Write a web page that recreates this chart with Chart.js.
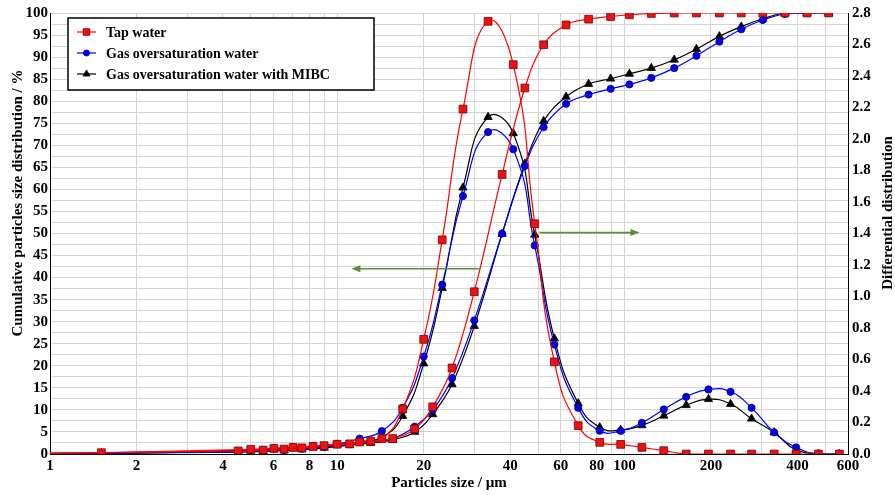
<!DOCTYPE html>
<html>
<head>
<meta charset="utf-8">
<script src="https://cdn.jsdelivr.net/npm/chart.js@4.4.1/dist/chart.umd.min.js"></script>
<style>
  html, body { margin: 0; padding: 0; background: #fff; }
  #wrap { width: 895px; height: 495px; }
</style>
</head>
<body>
<div id="wrap"><canvas id="psdChart" width="895" height="495"></canvas></div>
<script>
// particle size classes (µm) where markers sit
const diffSizes = [1, 1.51, 5.0, 6.02, 7.02, 8.24, 9.98, 11.97, 14.3, 16.9, 20, 23.2, 27.4, 33.5, 41, 48.7, 57, 69, 82, 97, 115, 137, 164, 196, 234, 277, 332, 396, 473, 560];
const cumSizes = [1, 4.52, 5.52, 6.53, 7.53, 9.0, 11.05, 13.08, 15.6, 18.6, 21.5, 25.1, 30, 37.5, 45, 52.3, 62.6, 75, 89.5, 104, 124, 149, 178, 214, 255, 303, 362, 432, 514];

// cumulative distribution, %
const tapCum = [0.2, 0.7, 0.9, 1.13, 1.4, 1.9, 2.3, 2.9, 3.5, 5.7, 10.7, 19.5, 36.8, 63.4, 83.0, 92.8, 97.3, 98.6, 99.2, 99.6, 99.9, 100, 100, 100, 100, 100, 100, 100, 100];
const gasCum = [0.1, 0.5, 0.7, 0.9, 1.2, 1.6, 2.2, 2.8, 3.5, 6.2, 10.0, 17.2, 30.3, 50.0, 65.3, 74.1, 79.4, 81.5, 82.8, 83.8, 85.3, 87.5, 90.3, 93.5, 96.3, 98.4, 99.8, 100, 100];
const mibcCum = [0.1, 0.4, 0.6, 0.8, 1.0, 1.4, 2.0, 2.5, 3.2, 5.0, 9.0, 15.8, 29.0, 49.9, 65.8, 75.5, 81.0, 83.9, 85.1, 86.2, 87.5, 89.4, 91.8, 94.7, 96.9, 98.7, 100, 100, 100];

// differential distribution
const tapDiff = [0.006, 0.008, 0.03, 0.036, 0.042, 0.048, 0.062, 0.076, 0.098, 0.286, 0.728, 1.36, 2.19, 2.747, 2.472, 1.462, 0.585, 0.18, 0.074, 0.061, 0.042, 0.021, 0, 0, 0, 0, 0, 0, 0, 0];
const gasDiff = [0.003, 0.005, 0.025, 0.034, 0.042, 0.05, 0.064, 0.098, 0.146, 0.294, 0.619, 1.075, 1.638, 2.044, 1.935, 1.324, 0.695, 0.293, 0.148, 0.146, 0.198, 0.283, 0.363, 0.41, 0.395, 0.293, 0.137, 0.042, 0, 0];
const mibcDiff = [0.003, 0.004, 0.02, 0.028, 0.036, 0.042, 0.056, 0.078, 0.106, 0.241, 0.574, 1.053, 1.691, 2.139, 2.036, 1.392, 0.733, 0.321, 0.169, 0.152, 0.182, 0.243, 0.31, 0.348, 0.317, 0.224, 0.137, 0.025, 0, 0];

const xLabels = [1, 2, 4, 6, 8, 10, 20, 40, 60, 80, 100, 200, 400, 600];

// green arrows (left-axis units)
const arrows = [
  { from: [31.3, 42], to: [11.2, 42] },
  { from: [50.6, 50.2], to: [112.8, 50.2] }
];

const serif = 'Liberation Serif, Times New Roman, serif';

function pts(sizes, values) {
  return sizes.map((x, i) => ({ x: x, y: values[i] }));
}

const series = [
  { label: 'Tap water', color: '#ff0000', fill: '#ee1111', edge: '#7a0000', style: 'rect', r: 5.5 },
  { label: 'Gas oversaturation water', color: '#0000ff', fill: '#0000ee', edge: '#000088', style: 'circle', r: 3.6 },
  { label: 'Gas oversaturation water with MIBC', color: '#000000', fill: '#000000', edge: '#000000', style: 'triangle', r: 4.8 }
];

function ds(s, data, axis, tension) {
  return {
    label: s.label,
    data: data,
    yAxisID: axis,
    borderColor: s.color,
    borderWidth: 1.2,
    backgroundColor: s.fill,
    pointBackgroundColor: s.fill,
    pointBorderColor: s.edge,
    pointBorderWidth: 0.8,
    pointStyle: s.style,
    pointRadius: c => (c.dataIndex === 0 ? 0 : s.r),
    pointHoverRadius: 0,
    tension: tension,
    fill: false
  };
}

const legendBox = {
  id: 'legendBox',
  afterDraw(chart) {
    const c = chart.ctx;
    c.save();
    c.fillStyle = '#fff';
    c.fillRect(68, 18, 306, 72);
    c.strokeStyle = '#000';
    c.lineWidth = 1.5;
    c.strokeRect(68, 18, 306, 72);
    series.forEach((s, i) => {
      const y = 32 + i * 21;
      c.strokeStyle = s.color;
      c.lineWidth = 1.2;
      c.beginPath();
      c.moveTo(77, y);
      c.lineTo(96, y);
      c.stroke();
      c.fillStyle = s.fill;
      c.strokeStyle = s.edge;
      c.lineWidth = 0.8;
      Chart.helpers.drawPoint(c, { pointStyle: s.style, radius: s.r * 0.85, borderWidth: 0.8 }, 86.5, y);
      c.fillStyle = '#000';
      c.font = 'bold 14px ' + serif;
      c.textBaseline = 'middle';
      c.fillText(s.label, 106, y + 1);
    });
    c.restore();
  }
};

// y titles sit off-centre in the original, so they are drawn here
const axisTitles = {
  id: 'axisTitles',
  afterDraw(chart) {
    const c = chart.ctx;
    c.save();
    c.fillStyle = '#000';
    c.font = 'bold 15px ' + serif;
    c.textAlign = 'center';
    c.textBaseline = 'middle';
    [[18, 203, 'Cumulative particles size distribution / %'], [888, 213, 'Differential distribution']].forEach(t => {
      c.save();
      c.translate(t[0], t[1]);
      c.rotate(-Math.PI / 2);
      c.fillText(t[2], 0, 0);
      c.restore();
    });
    c.restore();
  }
};

const arrowPlugin = {
  id: 'arrows',
  afterDatasetsDraw(chart) {
    const c = chart.ctx;
    const xs = chart.scales.x, ys = chart.scales.yL;
    c.save();
    c.strokeStyle = '#5b8c3a';
    c.fillStyle = '#5b8c3a';
    c.lineWidth = 1.6;
    arrows.forEach(a => {
      const x0 = xs.getPixelForValue(a.from[0]), y0 = ys.getPixelForValue(a.from[1]);
      const x1 = xs.getPixelForValue(a.to[0]), y1 = ys.getPixelForValue(a.to[1]);
      const dir = Math.sign(x1 - x0);
      c.beginPath();
      c.moveTo(x0, y0);
      c.lineTo(x1 - dir * 6, y1);
      c.stroke();
      c.beginPath();
      c.moveTo(x1, y1);
      c.lineTo(x1 - dir * 9, y1 - 3.5);
      c.lineTo(x1 - dir * 9, y1 + 3.5);
      c.closePath();
      c.fill();
    });
    c.restore();
  }
};

const ctx = document.getElementById('psdChart').getContext('2d');

new Chart(ctx, {
  type: 'line',
  data: {
    datasets: [
      ds(series[0], pts(cumSizes, tapCum), 'yL', 0.4),
      ds(series[0], pts(diffSizes, tapDiff), 'yR', 0.5),
      ds(series[1], pts(cumSizes, gasCum), 'yL', 0.4),
      ds(series[1], pts(diffSizes, gasDiff), 'yR', 0.5),
      ds(series[2], pts(cumSizes, mibcCum), 'yL', 0.4),
      ds(series[2], pts(diffSizes, mibcDiff), 'yR', 0.5)
    ]
  },
  options: {
    responsive: false,
    animation: false,
    layout: { padding: { top: 12, left: 0, right: 0, bottom: 0 } },
    plugins: { legend: { display: false }, tooltip: { enabled: false } },
    scales: {
      x: {
        type: 'logarithmic',
        min: 1,
        max: 600,
        afterBuildTicks: s => {
          const t = [];
          [1, 10, 100].forEach(d => {
            for (let k = 1; k <= 9; k++) {
              if (k * d <= 600) t.push({ value: k * d });
            }
          });
          s.ticks = t;
        },
        afterFit: s => { s.height = 41; },
        ticks: {
          autoSkip: false,
          maxRotation: 0,
          padding: 3,
          color: '#000',
          font: { family: serif, size: 15, weight: 'bold' },
          callback: v => (xLabels.includes(v) ? String(v) : '')
        },
        grid: { color: '#d4d4d4', drawTicks: false },
        border: { color: '#000', width: 1 },
        title: {
          display: true,
          text: 'Particles size / µm',
          color: '#000',
          font: { family: serif, size: 15, weight: 'bold' },
          padding: { top: 0, bottom: 3 }
        }
      },
      yL: {
        position: 'left',
        min: 0,
        max: 100,
        afterFit: s => { s.width = 50; },
        ticks: {
          stepSize: 2.5,
          autoSkip: false,
          padding: 2,
          color: '#000',
          font: { family: serif, size: 15, weight: 'bold' },
          callback: v => (v % 5 === 0 ? String(v) : '')
        },
        grid: { color: '#d4d4d4', drawTicks: false },
        border: { color: '#000', width: 1 }
      },
      yR: {
        position: 'right',
        min: 0,
        max: 2.8,
        afterFit: s => { s.width = 47; },
        ticks: {
          stepSize: 0.1,
          autoSkip: false,
          padding: 4,
          color: '#000',
          font: { family: serif, size: 15, weight: 'bold' },
          callback: v => (Math.round(v * 10) % 2 === 0 ? v.toFixed(1) : '')
        },
        grid: { drawOnChartArea: false, drawTicks: false },
        border: { color: '#000', width: 1 }
      }
    }
  },
  plugins: [arrowPlugin, legendBox, axisTitles]
});
</script>
</body>
</html>
